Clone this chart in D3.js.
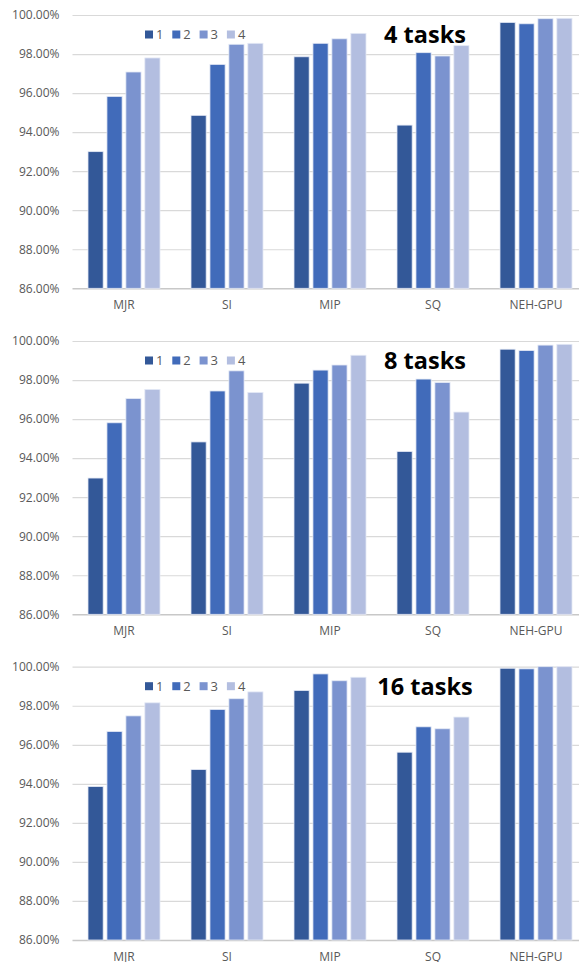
<!DOCTYPE html>
<html>
<head>
<meta charset="utf-8">
<script src="https://cdn.jsdelivr.net/npm/d3@7"></script>
<style>
html,body{margin:0;padding:0;background:#fff;}
svg{display:block;}
</style>
</head>
<body>
<svg id="chart" width="579" height="962"></svg>
<script>
const categories = ["MJR", "SI", "MIP", "SQ", "NEH-GPU"];
const seriesNames = ["1", "2", "3", "4"];
const panelTitles = ["4 tasks", "8 tasks", "16 tasks"];
const yTicks = [86, 88, 90, 92, 94, 96, 98, 100];
// values in percent, rows = categories, columns = series 1..4
const values4 = [
  [93.00, 95.83, 97.08, 97.80],
  [94.86, 97.47, 98.50, 98.55],
  [97.86, 98.55, 98.78, 99.06],
  [94.36, 98.07, 97.90, 98.43],
  [99.62, 99.55, 99.81, 99.83]
];
const values8 = [
  [92.98, 95.81, 97.05, 97.52],
  [94.83, 97.44, 98.47, 97.36],
  [97.84, 98.51, 98.77, 99.27],
  [94.34, 98.05, 97.87, 96.36],
  [99.58, 99.51, 99.79, 99.83]
];
const values16 = [
  [93.86, 96.68, 97.48, 98.15],
  [94.73, 97.81, 98.36, 98.71],
  [98.78, 99.63, 99.28, 99.46],
  [95.62, 96.92, 96.82, 97.42],
  [99.92, 99.89, 100.00, 100.00]
];
const panelValues = [values4, values8, values16];
const colors = ["#335898", "#416bba", "#7b93cf", "#b3bee0"];

const svg = d3.select("#chart");
const font = "'Open Sans', 'Noto Sans', sans-serif";
const panelTops = [15, 341, 666.7];
const plotH = 273.3;
const x0 = d3.scaleBand().domain(categories).range([72.5, 587.5]).paddingInner(0.301).paddingOuter(0.1505);
const x1 = d3.scaleBand().domain(seriesNames).range([0, x0.bandwidth()]).paddingInner(0.2);
const color = d3.scaleOrdinal().domain(seriesNames).range(colors);

panelValues.forEach((vals, pi) => {
  const top = panelTops[pi];
  const y = d3.scaleLinear().domain([86, 100]).range([top + plotH, top]);
  const g = svg.append("g");

  // gridlines
  const yAxis = d3.axisLeft(y).tickValues(yTicks).tickSize(-(579 - 72.5)).tickFormat(d => d.toFixed(2) + "%").tickPadding(13);
  const ga = g.append("g").attr("transform", "translate(72.5,0)").call(yAxis);
  ga.select(".domain").remove();
  ga.selectAll(".tick line").attr("stroke", d => d === 86 ? "#c8c8c8" : "#d9d9d9").attr("stroke-width", d => d === 86 ? 1.5 : 1.2);
  ga.selectAll(".tick text").attr("fill", "#595959").style("font-family", font).style("font-size", "12px");

  // bars
  const groups = g.selectAll(".grp").data(categories).enter().append("g")
    .attr("transform", d => `translate(${x0(d)},0)`);
  groups.selectAll("rect").data((d, ci) => seriesNames.map((s, si) => ({s, v: vals[ci][si]})))
    .enter().append("rect")
    .attr("x", d => x1(d.s))
    .attr("width", x1.bandwidth())
    .attr("y", d => y(Math.min(d.v, 100)))
    .attr("height", d => y(86) - y(Math.min(d.v, 100)))
    .attr("fill", d => color(d.s))
    .attr("stroke", "#e4e9f5")
    .attr("stroke-width", 0.8);

  // category axis labels
  const xAxis = d3.axisBottom(x0).tickSize(0).tickPadding(12);
  const gx = g.append("g").attr("transform", `translate(0,${top + plotH})`).call(xAxis);
  gx.select(".domain").remove();
  gx.selectAll(".tick text").attr("fill", "#595959").style("font-family", font).style("font-size", "12px");

  // legend
  const leg = g.append("g").attr("transform", `translate(145,${top + 19.5})`);
  const items = leg.selectAll("g").data(seriesNames).enter().append("g")
    .attr("transform", (d, i) => `translate(${i * 27.3},0)`);
  items.append("rect").attr("x", 0).attr("y", -4).attr("width", 8).attr("height", 8).attr("fill", d => color(d));
  items.append("text").attr("x", 11).attr("y", 0).attr("dy", "0.36em")
    .attr("fill", "#595959").style("font-family", font).style("font-size", "13px").text(d => d);

  // title
  g.append("text").attr("x", 425).attr("y", top + 28)
    .attr("text-anchor", "middle")
    .style("font-family", font).style("font-weight", "700").style("font-size", "23.5px")
    .attr("fill", "#000").text(panelTitles[pi]);
});
</script>
</body>
</html>
